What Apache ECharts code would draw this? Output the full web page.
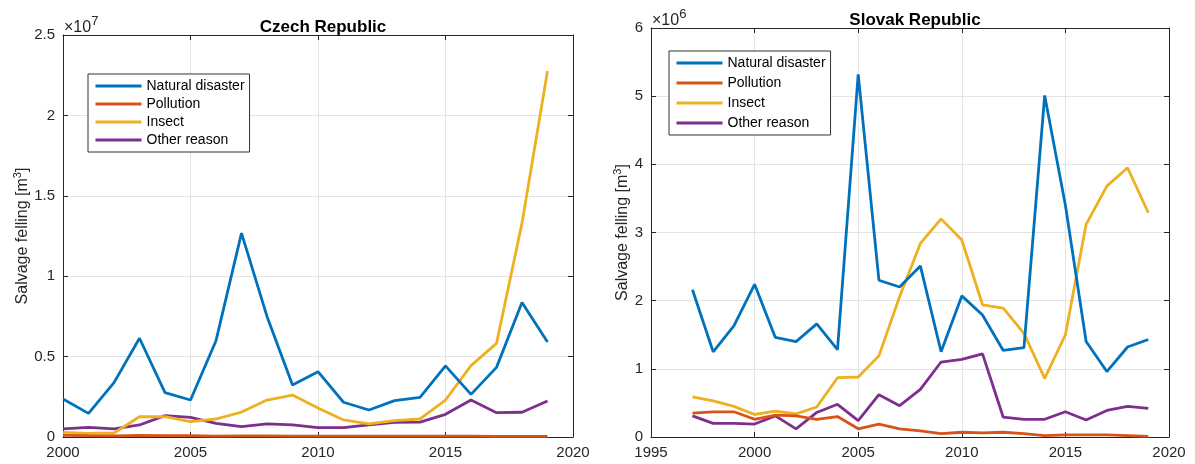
<!DOCTYPE html>
<html>
<head>
<meta charset="utf-8">
<script src="https://cdn.jsdelivr.net/npm/echarts@6/dist/echarts.min.js"></script>
<style>html,body{margin:0;padding:0;background:#fff;}#c{width:1195px;height:464px;}</style>
</head>
<body>
<div id="c"></div>
<script>
// Values in millions of m3
const seriesNames = ['Natural disaster', 'Pollution', 'Insect', 'Other reason'];
const colors = ['#0072BD', '#D95319', '#EDB120', '#7E2F8E'];

const czYears = [2000,2001,2002,2003,2004,2005,2006,2007,2008,2009,2010,2011,2012,2013,2014,2015,2016,2017,2018,2019];
const czNatural = [2.36,1.47,3.38,6.14,2.76,2.30,5.99,12.68,7.50,3.23,4.06,2.16,1.68,2.26,2.47,4.42,2.65,4.33,8.37,5.91];
const czPollution = [0.10,0.08,0.07,0.10,0.09,0.08,0.05,0.07,0.07,0.06,0.05,0.05,0.05,0.05,0.05,0.06,0.05,0.04,0.04,0.04];
const czInsect = [0.29,0.23,0.25,1.26,1.26,0.95,1.12,1.55,2.30,2.61,1.80,1.06,0.81,1.02,1.12,2.30,4.44,5.82,13.3,22.76];
const czOther = [0.50,0.60,0.50,0.75,1.33,1.22,0.85,0.64,0.81,0.75,0.58,0.58,0.75,0.91,0.93,1.41,2.30,1.51,1.54,2.24];

const skYears = [1997,1998,1999,2000,2001,2002,2003,2004,2005,2006,2007,2008,2009,2010,2011,2012,2013,2014,2015,2016,2017,2018,2019];
const skNatural = [2.16,1.25,1.63,2.24,1.46,1.40,1.66,1.28,5.32,2.30,2.20,2.51,1.25,2.07,1.79,1.27,1.31,5.01,3.40,1.40,0.96,1.32,1.43];
const skPollution = [0.35,0.37,0.37,0.26,0.32,0.31,0.26,0.30,0.12,0.19,0.12,0.09,0.05,0.07,0.06,0.07,0.05,0.02,0.03,0.03,0.03,0.02,0.01];
const skInsect = [0.59,0.53,0.45,0.33,0.38,0.34,0.44,0.87,0.88,1.19,2.06,2.84,3.20,2.89,1.94,1.89,1.52,0.86,1.50,3.12,3.68,3.95,3.29];
const skOther = [0.31,0.20,0.20,0.19,0.31,0.12,0.36,0.48,0.24,0.62,0.46,0.70,1.10,1.14,1.22,0.29,0.26,0.26,0.37,0.25,0.39,0.45,0.42];

const czTitle = 'Czech Republic';
const skTitle = 'Slovak Republic';
const yName = 'Salvage felling [m';

const axisColor = '#262626';
const gridColor = '#e4e4e4';
const font = 'Liberation Sans, Arial, sans-serif';

function pairs(xs, ys) { return xs.map((x, i) => [x, ys[i]]); }

const czData = [czNatural, czPollution, czInsect, czOther];
const skData = [skNatural, skPollution, skInsect, skOther];

const series = [];
seriesNames.forEach((n, i) => {
  series.push({ name: n, type: 'line', xAxisIndex: 0, yAxisIndex: 0, data: pairs(czYears, czData[i]),
    symbol: 'none', showSymbol: false, color: colors[i], lineStyle: { width: 2.8, color: colors[i] }, z: 10 - i });
});
seriesNames.forEach((n, i) => {
  series.push({ name: n, type: 'line', xAxisIndex: 1, yAxisIndex: 1, data: pairs(skYears, skData[i]),
    symbol: 'none', showSymbol: false, color: colors[i], lineStyle: { width: 2.8, color: colors[i] }, z: 10 - i });
});

function mainX(grid, min) {
  return { type: 'value', gridIndex: grid, min: min, max: 2020, interval: 5, position: 'bottom',
    axisLine: { show: true, onZero: false, lineStyle: { color: axisColor, width: 1 } },
    axisTick: { show: true, inside: true, length: 5, lineStyle: { color: axisColor } },
    axisLabel: { color: axisColor, fontSize: 15, fontFamily: font, margin: 8, formatter: v => String(v) },
    splitLine: { show: true, lineStyle: { color: gridColor, width: 1 } } };
}
function boxX(grid, min) {
  return { type: 'value', gridIndex: grid, min: min, max: 2020, interval: 5, position: 'top',
    axisLine: { show: true, onZero: false, lineStyle: { color: axisColor, width: 1 } },
    axisTick: { show: true, inside: true, length: 5, lineStyle: { color: axisColor } },
    axisLabel: { show: false }, splitLine: { show: false } };
}
function mainY(grid, max, interval, fmt, gap) {
  return { type: 'value', gridIndex: grid, min: 0, max: max, interval: interval, position: 'left',
    axisLine: { show: true, onZero: false, lineStyle: { color: axisColor, width: 1 } },
    axisTick: { show: true, inside: true, length: 5, lineStyle: { color: axisColor } },
    axisLabel: { color: axisColor, fontSize: 15, fontFamily: font, margin: 8, formatter: fmt },
    splitLine: { show: true, lineStyle: { color: gridColor, width: 1 } },
    name: '{a|' + yName + '}{s|3}{a|]}', nameLocation: 'middle', nameRotate: 90, nameGap: gap,
    nameTextStyle: { rich: {
      a: { fontSize: 16, fontFamily: font, color: axisColor },
      s: { fontSize: 11, fontFamily: font, color: axisColor, padding: [0, 0, 9, 0] } } } };
}
function boxY(grid, max, interval) {
  return { type: 'value', gridIndex: grid, min: 0, max: max, interval: interval, position: 'right',
    axisLine: { show: true, onZero: false, lineStyle: { color: axisColor, width: 1 } },
    axisTick: { show: true, inside: true, length: 5, lineStyle: { color: axisColor } },
    axisLabel: { show: false }, splitLine: { show: false } };
}

function legendCfg(left, top, gap) {
  return { left: left, top: top, orient: 'vertical', data: seriesNames, itemWidth: 46, itemHeight: 14, itemGap: gap,
    padding: [5, 5, 5, 6], borderColor: '#333', borderWidth: 1, backgroundColor: '#fff',
    itemStyle: { opacity: 0, borderWidth: 0 },
    lineStyle: { width: 3 },
    textStyle: { fontSize: 14, fontFamily: font, color: '#000' }, selectedMode: false };
}

function expText(x, y, e) {
  return { type: 'text', left: x, top: y, z: 100,
    style: { text: '{a|×10}{s|' + e + '}', rich: {
      a: { fontSize: 16, fontFamily: font, fill: axisColor, padding: [7, 0, 0, 0] },
      s: { fontSize: 13, fontFamily: font, fill: axisColor, padding: [0, 0, 6, 0] } } } };
}

const option = {
  animation: false,
  backgroundColor: '#fff',
  title: [
    { text: czTitle, left: 318, top: 14, textAlign: 'center',
      textStyle: { fontSize: 17, fontWeight: 'bold', fontFamily: font, color: '#000' } },
    { text: skTitle, left: 910, top: 7, textAlign: 'center',
      textStyle: { fontSize: 17, fontWeight: 'bold', fontFamily: font, color: '#000' } }
  ],
  grid: [
    { left: 63, top: 35, width: 510, height: 402 },
    { left: 651, top: 28, width: 518, height: 409 }
  ],
  xAxis: [ mainX(0, 2000), mainX(1, 1995), boxX(0, 2000), boxX(1, 1995) ],
  yAxis: [
    mainY(0, 25, 5, v => String(v / 10), 30),
    mainY(1, 6, 1, v => String(v), 17),
    boxY(0, 25, 5), boxY(1, 6, 1)
  ],
  legend: [ legendCfg(88, 74, 4), legendCfg(669, 51, 6) ],
  graphic: [ expText(64, 15, 7), expText(652, 8, 6) ],
  series: series
};

const chart = echarts.init(document.getElementById('c'), null, { renderer: 'canvas' });
chart.setOption(option);
</script>
</body>
</html>
